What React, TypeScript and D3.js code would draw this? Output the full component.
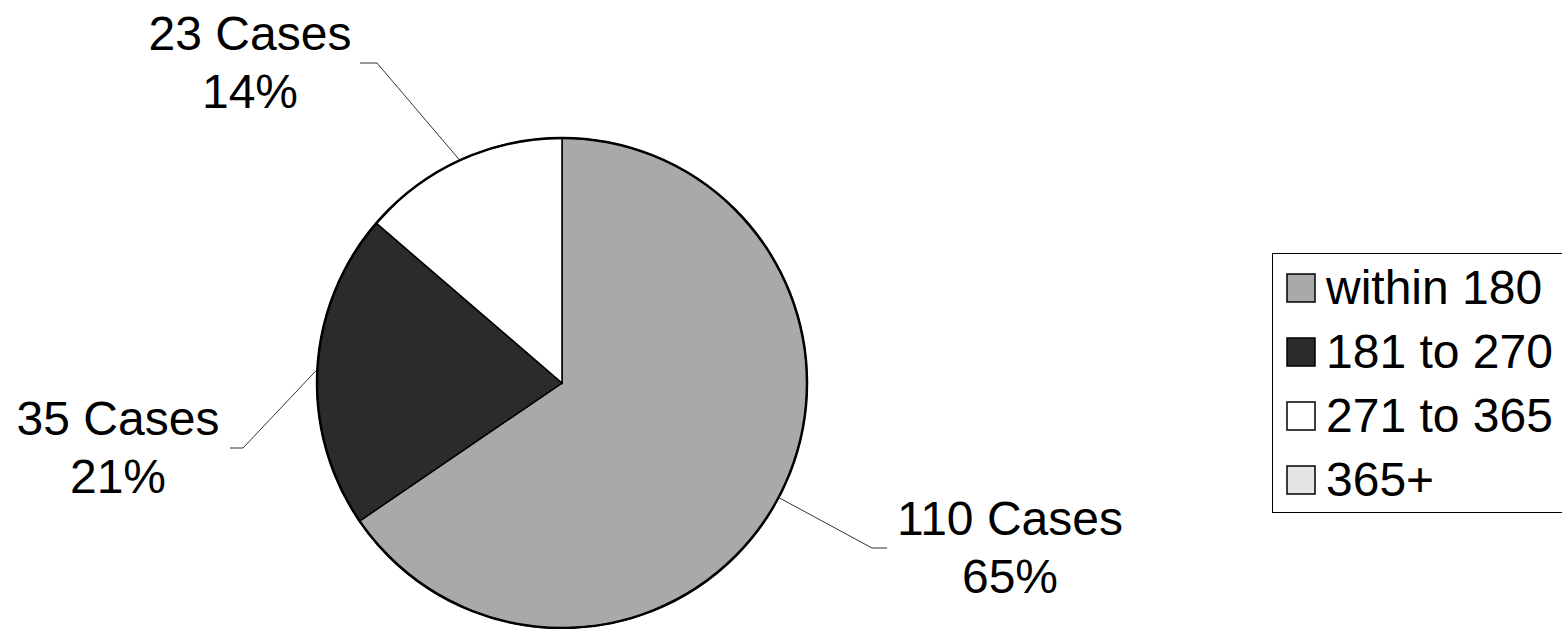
import React from 'react';
import * as d3 from 'd3';

// data
const categories = ['within 180', '181 to 270', '271 to 365', '365+'];
const caseCounts = [110, 35, 23, 0];
const percentLabels = ['65%', '21%', '14%', '0%'];
const sliceColors = ['#a9a9a9', '#2b2b2b', '#ffffff', '#e4e4e4'];

const width = 1562;
const height = 629;
const cx = 562;
const cy = 383;
const radius = 245;
const font = '"Liberation Sans", Arial, sans-serif';

// label placement (elbow of the leader, label centre, first baseline)
const labelLayout = [
  { elbow: [872, 548], end: 887, x: 1010, y: 535 },
  { elbow: [243, 448], end: 230, x: 118, y: 435 },
  { elbow: [377, 63], end: 360, x: 250, y: 50 },
];

const App = () => {
  const pie = d3.pie<number>().sort(null).value(d => d);
  const arcs = pie(caseCounts);
  const arc = d3.arc<d3.PieArcDatum<number>>().innerRadius(0).outerRadius(radius);

  const legendY = d3.scalePoint<string>()
    .domain(categories)
    .range([304, 496]);

  return (
    <svg width={width} height={height} style={{ position: 'absolute', left: 0, top: 0, background: '#fff' }}>
      <g transform={`translate(${cx},${cy})`}>
        {arcs.filter(a => a.value > 0).map((a, i) => (
          <path key={i} d={arc(a) || ''} fill={sliceColors[a.index]} stroke="#000" strokeWidth={1.5} />
        ))}
        <circle r={radius} fill="none" stroke="#000" strokeWidth={2.5} />
      </g>

      {arcs.filter(a => a.value > 0).map((a, i) => {
        const lay = labelLayout[i];
        const mid = (a.startAngle + a.endAngle) / 2;
        const px = cx + radius * Math.sin(mid);
        const py = cy - radius * Math.cos(mid);
        return (
          <g key={i}>
            <polyline
              points={`${px},${py} ${lay.elbow[0]},${lay.elbow[1]} ${lay.end},${lay.elbow[1]}`}
              fill="none" stroke="#333" strokeWidth={1}
            />
            <text x={lay.x} y={lay.y} textAnchor="middle" fontFamily={font} fontSize={48} fill="#000">
              {`${caseCounts[a.index]} Cases`}
            </text>
            <text x={lay.x} y={lay.y + 58} textAnchor="middle" fontFamily={font} fontSize={48} fill="#000">
              {percentLabels[a.index]}
            </text>
          </g>
        );
      })}

      <rect x={1272.5} y={253.5} width={320} height={259} fill="#fff" stroke="#000" strokeWidth={1} />
      {categories.map((c, i) => {
        const y = legendY(c) as number;
        return (
          <g key={c}>
            <rect x={1287} y={y - 30} width={28} height={28} fill={sliceColors[i]} stroke="#000" strokeWidth={1.5} />
            <text x={1326} y={y} fontFamily={font} fontSize={48} fill="#000">{c}</text>
          </g>
        );
      })}
    </svg>
  );
};

export default App;
